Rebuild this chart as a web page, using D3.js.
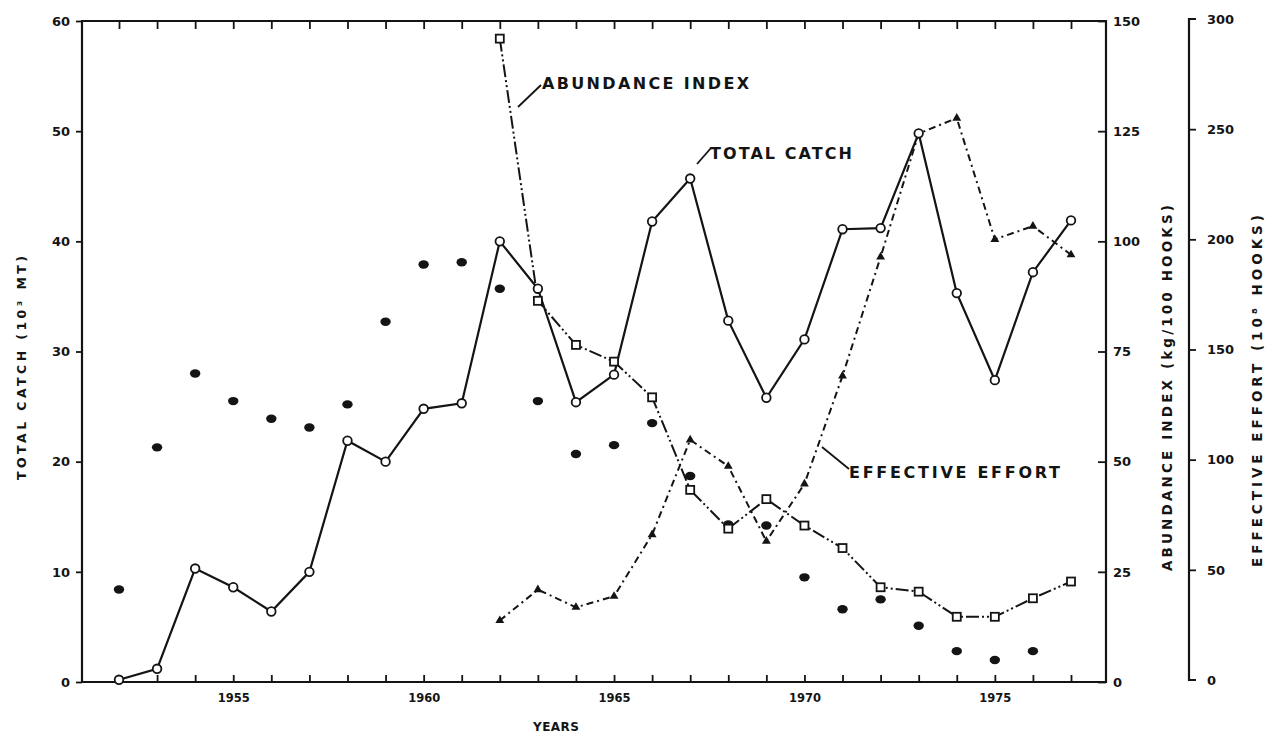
<!DOCTYPE html>
<html>
<head>
<meta charset="utf-8">
<script src="https://cdn.jsdelivr.net/npm/d3@7"></script>
<style>
  body { margin: 0; background: #fff; }
  svg { display: block; }
  text { font-family: "DejaVu Sans", sans-serif; fill: #141414; font-weight: bold; }
</style>
</head>
<body>
<svg id="chart" width="1272" height="735"></svg>
<script>
// ---- data -------------------------------------------------------------
const catchYears = [1952, 1953, 1954, 1955, 1956, 1957, 1958, 1959, 1960, 1961, 1962, 1963, 1964,
                    1965, 1966, 1967, 1968, 1969, 1970, 1971, 1972, 1973, 1974, 1975, 1976, 1977];
// total catch, thousand metric tons
const totalCatch = [0.2, 1.2, 10.3, 8.6, 6.4, 10.0, 21.9, 20.0, 24.8, 25.3, 40.0, 35.7, 25.4,
                    27.9, 41.8, 45.7, 32.8, 25.8, 31.1, 41.1, 41.2, 49.8, 35.3, 27.4, 37.2, 41.9];

// solid dots (left scale), 1952-1976
const dotYears = [1952, 1953, 1954, 1955, 1956, 1957, 1958, 1959, 1960, 1961, 1962, 1963, 1964,
                  1965, 1966, 1967, 1968, 1969, 1970, 1971, 1972, 1973, 1974, 1975, 1976];
const dotValues = [8.4, 21.3, 28.0, 25.5, 23.9, 23.1, 25.2, 32.7, 37.9, 38.1, 35.7, 25.5, 20.7,
                   21.5, 23.5, 18.7, 14.3, 14.2, 9.5, 6.6, 7.5, 5.1, 2.8, 2.0, 2.8];

const indexYears = [1962, 1963, 1964, 1965, 1966, 1967, 1968, 1969, 1970, 1971, 1972, 1973,
                    1974, 1975, 1976, 1977];
// abundance index, kg per 100 hooks
const abundanceIndex = [146, 86.5, 76.5, 72.7, 64.6, 43.6, 34.8, 41.5, 35.5, 30.4, 21.5, 20.5,
                        14.8, 14.8, 19.0, 22.8];
// effective effort, 10^6 hooks
const effectiveEffort = [27, 41, 33, 38, 66, 109, 97, 63, 89, 138, 192, 248, 255, 200, 206, 193];

const catchTicks = [0, 10, 20, 30, 40, 50, 60];
const indexTicks = [0, 25, 50, 75, 100, 125, 150];
const effortTicks = [0, 50, 100, 150, 200, 250, 300];
const labelledYears = [1955, 1960, 1965, 1970, 1975];

// ---- layout -----------------------------------------------------------
const frame = { left: 82, right: 1106, top: 21, bottom: 682 };
const effortAxisX = 1189;

const svg = d3.select("#chart");

const x = d3.scaleLinear().domain([1952, 1977]).range([119, 1071]);
const yCatch = d3.scaleLinear().domain([0, 60]).range([frame.bottom, frame.top]);
const yIndex = d3.scaleLinear().domain([0, 150]).range([frame.bottom, frame.top]);
const yEffort = d3.scaleLinear().domain([0, 300]).range([frame.bottom - 2, frame.top - 2]);

const ink = "#141414";

// ---- frame ------------------------------------------------------------
svg.append("path")
  .attr("d", `M${frame.left},${frame.top}H${frame.right}V${frame.bottom}H${frame.left}Z`)
  .attr("fill", "none").attr("stroke", ink).attr("stroke-width", 2.2);

function styleAxis(g, fontSize) {
  g.select(".domain").remove();
  g.selectAll(".tick line").attr("stroke", ink).attr("stroke-width", 1.8);
  g.selectAll(".tick text").attr("font-size", fontSize).attr("fill", ink)
    .attr("font-family", "DejaVu Sans, sans-serif").attr("font-weight", "bold");
}

// bottom axis: a tick for every year, labels every fifth year
svg.append("g")
  .attr("transform", `translate(0,${frame.bottom})`)
  .call(d3.axisBottom(x).tickValues(catchYears.slice(1)).tickSize(-7).tickPadding(12)
    .tickFormat(d => labelledYears.includes(d) ? String(d) : ""))
  .call(g => styleAxis(g, 11.5));

// top axis: ticks only
svg.append("g")
  .attr("transform", `translate(0,${frame.top})`)
  .call(d3.axisTop(x).tickValues(catchYears).tickSize(-8).tickFormat(""))
  .call(g => styleAxis(g, 11));

// left axis: total catch
svg.append("g")
  .attr("transform", `translate(${frame.left},0)`)
  .call(d3.axisLeft(yCatch).tickValues(catchTicks).tickSize(6).tickPadding(6))
  .call(g => styleAxis(g, 13));

// inner right axis: abundance index
svg.append("g")
  .attr("transform", `translate(${frame.right},0)`)
  .call(d3.axisRight(yIndex).tickValues(indexTicks).tickSize(-8).tickPadding(7))
  .call(g => styleAxis(g, 13));

// outer right axis: effective effort, drawn as a bracket
svg.append("path")
  .attr("d", `M${effortAxisX + 7},${yEffort(300)}H${effortAxisX}V${yEffort(0)}H${effortAxisX + 7}`)
  .attr("fill", "none").attr("stroke", ink).attr("stroke-width", 2.2);
svg.append("g")
  .attr("transform", `translate(${effortAxisX},0)`)
  .call(d3.axisRight(yEffort).tickValues(effortTicks.slice(1, -1)).tickSize(7).tickPadding(11))
  .call(g => styleAxis(g, 13));
svg.append("g")
  .attr("transform", `translate(${effortAxisX},0)`)
  .call(d3.axisRight(yEffort).tickValues([0, 300]).tickSize(0).tickPadding(18))
  .call(g => styleAxis(g, 13));

// ---- axis titles ------------------------------------------------------
svg.append("text")
  .attr("transform", "translate(26,368) rotate(-90)")
  .attr("text-anchor", "middle").attr("font-size", 12.5)
  .attr("textLength", 224).attr("lengthAdjust", "spacing")
  .text("TOTAL CATCH (10³ MT)");

svg.append("text")
  .attr("transform", "translate(1172,388) rotate(-90)")
  .attr("text-anchor", "middle").attr("font-size", 13.5)
  .attr("textLength", 366).attr("lengthAdjust", "spacing")
  .text("ABUNDANCE INDEX (kg/100 HOOKS)");

svg.append("text")
  .attr("transform", "translate(1262,391) rotate(-90)")
  .attr("text-anchor", "middle").attr("font-size", 13.5)
  .attr("textLength", 352).attr("lengthAdjust", "spacing")
  .text("EFFECTIVE EFFORT (10⁸ HOOKS)");

svg.append("text")
  .attr("x", 556).attr("y", 731)
  .attr("text-anchor", "middle").attr("font-size", 12)
  .attr("textLength", 46).attr("lengthAdjust", "spacing")
  .text("YEARS");

// ---- series lines -----------------------------------------------------
const catchPts = catchYears.map((yr, i) => [x(yr), yCatch(totalCatch[i])]);
const indexPts = indexYears.map((yr, i) => [x(yr), yIndex(abundanceIndex[i])]);
const effortPts = indexYears.map((yr, i) => [x(yr), yEffort(effectiveEffort[i])]);
const line = d3.line();

svg.append("path").attr("d", line(effortPts))
  .attr("fill", "none").attr("stroke", ink).attr("stroke-width", 2)
  .attr("stroke-dasharray", "7,4,2,4");

svg.append("path").attr("d", line(indexPts))
  .attr("fill", "none").attr("stroke", ink).attr("stroke-width", 2)
  .attr("stroke-dasharray", "13,3,2,3,2,3");

svg.append("path").attr("d", line(catchPts))
  .attr("fill", "none").attr("stroke", ink).attr("stroke-width", 2.2);

// ---- markers ----------------------------------------------------------
svg.append("g").selectAll("ellipse")
  .data(dotYears.map((yr, i) => [x(yr), yCatch(dotValues[i])]))
  .join("ellipse")
  .attr("cx", d => d[0]).attr("cy", d => d[1])
  .attr("rx", 5.2).attr("ry", 4.2).attr("fill", ink);

svg.append("g").selectAll("path")
  .data(effortPts)
  .join("path")
  .attr("transform", d => `translate(${d[0]},${d[1]})`)
  .attr("d", d3.symbol(d3.symbolTriangle, 34))
  .attr("fill", ink);

svg.append("g").selectAll("rect")
  .data(indexPts)
  .join("rect")
  .attr("x", d => d[0] - 4).attr("y", d => d[1] - 4)
  .attr("width", 8).attr("height", 8)
  .attr("fill", "#fff").attr("stroke", ink).attr("stroke-width", 1.8);

svg.append("g").selectAll("circle")
  .data(catchPts)
  .join("circle")
  .attr("cx", d => d[0]).attr("cy", d => d[1]).attr("r", 4.3)
  .attr("fill", "#fff").attr("stroke", ink).attr("stroke-width", 1.8);

// ---- series labels with leader lines -----------------------------------
function seriesLabel(label, tx, ty, width, leader) {
  svg.append("path").attr("d", d3.line()(leader))
    .attr("fill", "none").attr("stroke", ink).attr("stroke-width", 1.8);
  svg.append("text").attr("x", tx).attr("y", ty)
    .attr("font-size", 16)
    .attr("textLength", width).attr("lengthAdjust", "spacing")
    .text(label);
}
seriesLabel("ABUNDANCE INDEX", 542, 89, 207, [[541, 85], [518, 107]]);
seriesLabel("TOTAL CATCH", 710, 159, 142, [[711, 148], [697, 164]]);
seriesLabel("EFFECTIVE EFFORT", 849, 478, 211, [[849, 469], [822, 447]]);
</script>
</body>
</html>
